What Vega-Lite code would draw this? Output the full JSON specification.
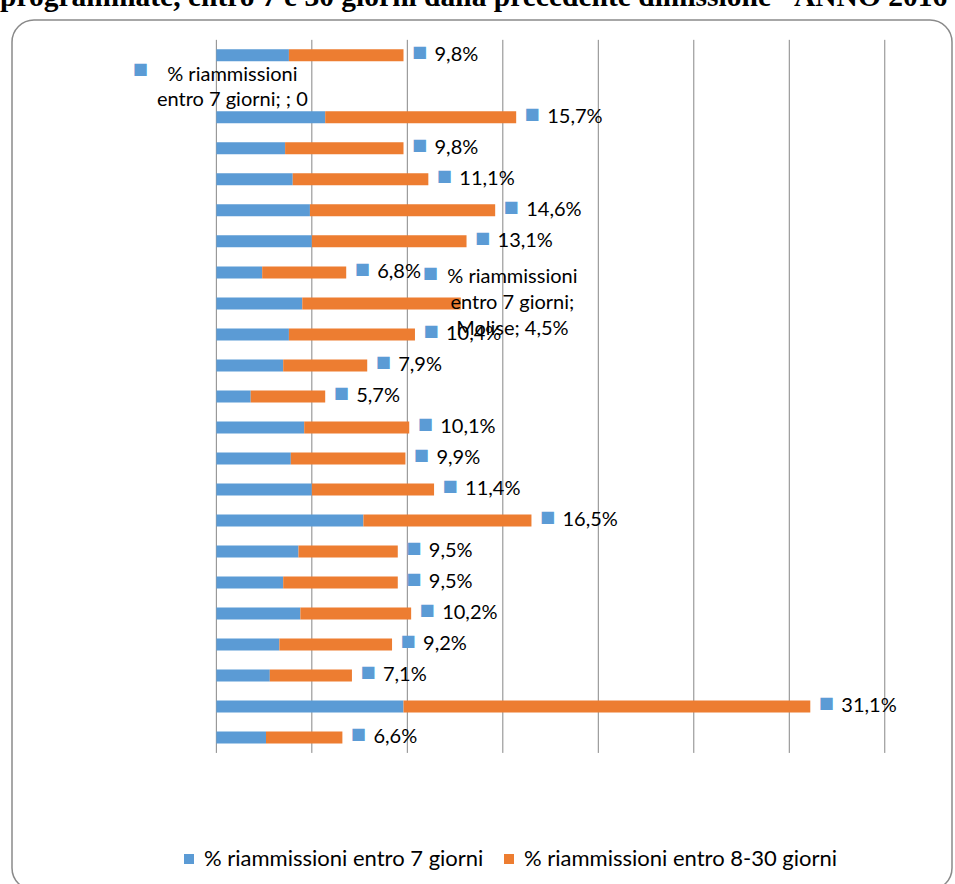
{
  "$schema": "https://vega.github.io/schema/vega-lite/v6.json",
  "width": 940,
  "height": 870,
  "autosize": {"type": "none"},
  "padding": {"left": 12, "top": 20, "right": 3, "bottom": 0},
  "background": "white",
  "title": {
    "text": "programmate, entro 7 e 30 giorni dalla precedente dimissione - ANNO 2016",
    "anchor": "start",
    "frame": "group",
    "font": "Liberation Serif",
    "fontSize": 29.5,
    "fontWeight": "bold",
    "color": "black",
    "dx": -12,
    "offset": 8
  },
  "config": {
    "view": {"stroke": "#8a8a8a", "strokeWidth": 1.5, "cornerRadius": 22},
    "locale": {
      "number": {"decimal": ",", "thousands": ".", "grouping": [3], "currency": ["", "%"]}
    }
  },
  "datasets": {
    "rates": [
      {"region": "Italia", "row": 0, "v7": 3.8, "v830": 6.0, "tot": 9.8},
      {"region": "", "row": 1, "v7": 0, "v830": 0, "tot": null},
      {"region": "Sardegna", "row": 2, "v7": 5.7, "v830": 10.0, "tot": 15.7},
      {"region": "Sicilia", "row": 3, "v7": 3.6, "v830": 6.2, "tot": 9.8},
      {"region": "Calabria", "row": 4, "v7": 4.0, "v830": 7.1, "tot": 11.1},
      {"region": "Basilicata", "row": 5, "v7": 4.9, "v830": 9.7, "tot": 14.6},
      {"region": "Puglia", "row": 6, "v7": 5.0, "v830": 8.1, "tot": 13.1},
      {"region": "Campania", "row": 7, "v7": 2.4, "v830": 4.4, "tot": 6.8},
      {"region": "Molise", "row": 8, "v7": 4.5, "v830": 8.3, "tot": 12.8},
      {"region": "Abruzzo", "row": 9, "v7": 3.8, "v830": 6.6, "tot": 10.4},
      {"region": "Lazio", "row": 10, "v7": 3.5, "v830": 4.4, "tot": 7.9},
      {"region": "Marche", "row": 11, "v7": 1.8, "v830": 3.9, "tot": 5.7},
      {"region": "Umbria", "row": 12, "v7": 4.6, "v830": 5.5, "tot": 10.1},
      {"region": "Toscana", "row": 13, "v7": 3.9, "v830": 6.0, "tot": 9.9},
      {"region": "Emilia Romagna", "row": 14, "v7": 5.0, "v830": 6.4, "tot": 11.4},
      {"region": "Liguria", "row": 15, "v7": 7.7, "v830": 8.8, "tot": 16.5},
      {"region": "Friuli Venezia Giulia", "row": 16, "v7": 4.3, "v830": 5.2, "tot": 9.5},
      {"region": "Veneto", "row": 17, "v7": 3.5, "v830": 6.0, "tot": 9.5},
      {"region": "P.A. Trento", "row": 18, "v7": 4.4, "v830": 5.8, "tot": 10.2},
      {"region": "P.A. Bolzano", "row": 19, "v7": 3.3, "v830": 5.9, "tot": 9.2},
      {"region": "Lombardia", "row": 20, "v7": 2.8, "v830": 4.3, "tot": 7.1},
      {"region": "Valle d'Aosta", "row": 21, "v7": 9.8, "v830": 21.3, "tot": 31.1},
      {"region": "Piemonte", "row": 22, "v7": 2.6, "v830": 4.0, "tot": 6.6}
    ],
    "grid": [{"g": 0}, {"g": 5}, {"g": 10}, {"g": 15}, {"g": 20}, {"g": 25}, {"g": 30}, {"g": 35}],
    "blank": [{"region": "", "v7": 0, "txt": ["% riammissioni", "entro 7 giorni; ; 0"]}],
    "molise": [{"region": "Molise", "v7": 4.5, "txt": ["% riammissioni", "entro 7 giorni;", "Molise; 4,5%"]}]
  },
  "layer": [
    {
      "data": {"name": "grid"},
      "mark": {"type": "rule", "color": "#878787", "strokeWidth": 1},
      "encoding": {
        "x": {"field": "g", "type": "quantitative", "scale": {"domain": [-10.7, 38.52], "nice": false, "zero": false}, "axis": null},
        "y": {"datum": -0.5, "type": "quantitative", "scale": {"domain": [-0.979, 26.76], "reverse": true, "nice": false, "zero": false}, "axis": null},
        "y2": {"datum": 22.5}
      }
    },
    {
      "data": {"name": "rates"},
      "transform": [
        {"fold": ["v7", "v830"], "as": ["serie", "value"]},
        {"stack": "value", "groupby": ["region"], "sort": [{"field": "serie", "order": "ascending"}], "as": ["x0", "x1"]}
      ],
      "mark": {"type": "bar", "size": 12},
      "encoding": {
        "y": {"field": "row", "type": "quantitative", "scale": {"domain": [-0.979, 26.76], "reverse": true, "nice": false, "zero": false}, "axis": null},
        "x": {"field": "x0", "type": "quantitative", "scale": {"domain": [-10.7, 38.52], "nice": false, "zero": false}, "axis": null},
        "x2": {"field": "x1"},
        "color": {
          "field": "serie",
          "type": "nominal",
          "scale": {"domain": ["v7", "v830"], "range": ["#5B9BD5", "#ED7D31"]},
          "legend": {
            "title": null,
            "orient": "none",
            "legendX": 166,
            "legendY": 828,
            "direction": "horizontal",
            "padding": 0,
            "symbolType": "square",
            "symbolSize": 100,
            "symbolStrokeWidth": 0,
            "labelFont": "Lato",
            "labelFontSize": 22,
            "labelColor": "#000000",
            "labelOffset": 4,
            "labelLimit": 400,
            "columnPadding": 14,
            "labelExpr": "datum.label == 'v7' ? '% riammissioni entro 7 giorni' : '% riammissioni entro 8-30 giorni'"
          }
        }
      }
    },
    {
      "data": {"name": "rates"},
      "transform": [{"filter": "datum.tot != null && datum.region != 'Molise'"}],
      "mark": {"type": "text", "text": "■", "font": "DejaVu Sans", "fontSize": 16, "color": "#5B9BD5", "align": "center", "baseline": "middle", "dx": 16, "dy": -3},
      "encoding": {
        "y": {"field": "row", "type": "quantitative", "scale": {"domain": [-0.979, 26.76], "reverse": true, "nice": false, "zero": false}, "axis": null},
        "x": {"field": "tot", "type": "quantitative", "scale": {"domain": [-10.7, 38.52], "nice": false, "zero": false}, "axis": null}
      }
    },
    {
      "data": {"name": "rates"},
      "transform": [{"filter": "datum.tot != null && datum.region != 'Molise'"}],
      "mark": {"type": "text", "font": "Lato", "fontSize": 20, "color": "#000000", "align": "left", "baseline": "middle", "dx": 31},
      "encoding": {
        "y": {"field": "row", "type": "quantitative", "scale": {"domain": [-0.979, 26.76], "reverse": true, "nice": false, "zero": false}, "axis": null},
        "x": {"field": "tot", "type": "quantitative", "scale": {"domain": [-10.7, 38.52], "nice": false, "zero": false}, "axis": null},
        "text": {"field": "tot", "type": "quantitative", "format": "$.1f"}
      }
    },
    {
      "data": {"name": "blank"},
      "mark": {"type": "text", "font": "Lato", "fontSize": 20, "color": "#000000", "align": "center", "baseline": "middle", "lineHeight": 25, "dx": 16, "dy": -11},
      "encoding": {
        "y": {"datum": 1, "type": "quantitative", "scale": {"domain": [-0.979, 26.76], "reverse": true, "nice": false, "zero": false}, "axis": null},
        "x": {"field": "v7", "type": "quantitative", "scale": {"domain": [-10.7, 38.52], "nice": false, "zero": false}, "axis": null},
        "text": {"field": "txt"}
      }
    },
    {
      "data": {"name": "blank"},
      "mark": {"type": "text", "text": "■", "font": "DejaVu Sans", "fontSize": 16, "color": "#5B9BD5", "align": "center", "baseline": "middle", "dx": -76, "dy": -17},
      "encoding": {
        "y": {"datum": 1, "type": "quantitative", "scale": {"domain": [-0.979, 26.76], "reverse": true, "nice": false, "zero": false}, "axis": null},
        "x": {"field": "v7", "type": "quantitative", "scale": {"domain": [-10.7, 38.52], "nice": false, "zero": false}, "axis": null}
      }
    },
    {
      "data": {"name": "molise"},
      "mark": {"type": "text", "font": "Lato", "fontSize": 20, "color": "#000000", "align": "center", "baseline": "middle", "lineHeight": 26, "dy": -26},
      "encoding": {
        "y": {"datum": 8, "type": "quantitative", "scale": {"domain": [-0.979, 26.76], "reverse": true, "nice": false, "zero": false}, "axis": null},
        "x": {"datum": 15.5, "type": "quantitative", "scale": {"domain": [-10.7, 38.52], "nice": false, "zero": false}, "axis": null},
        "text": {"field": "txt"}
      }
    },
    {
      "data": {"name": "molise"},
      "mark": {"type": "text", "text": "■", "font": "DejaVu Sans", "fontSize": 16, "color": "#5B9BD5", "align": "center", "baseline": "middle", "dx": -82, "dy": -30},
      "encoding": {
        "y": {"datum": 8, "type": "quantitative", "scale": {"domain": [-0.979, 26.76], "reverse": true, "nice": false, "zero": false}, "axis": null},
        "x": {"datum": 15.5, "type": "quantitative", "scale": {"domain": [-10.7, 38.52], "nice": false, "zero": false}, "axis": null}
      }
    }
  ]
}
